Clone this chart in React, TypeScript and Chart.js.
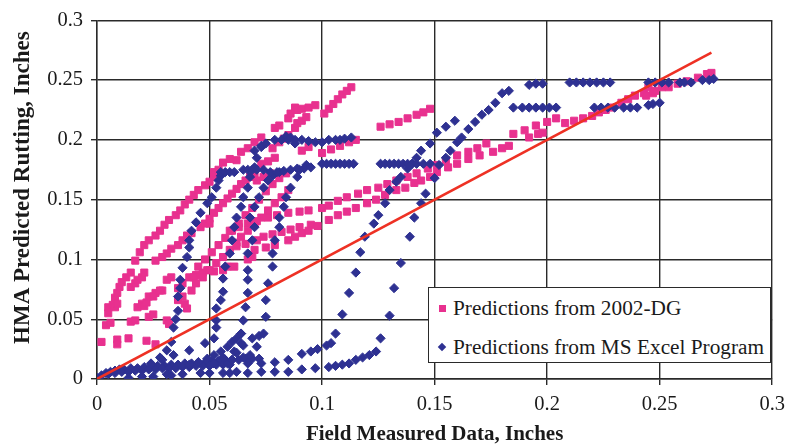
import { useEffect, useRef } from "react";
import { Chart, registerables } from "chart.js";

Chart.register(...registerables);

type Pt = [number, number];

// ---------- axis / text data ----------
const xTickValues = [0, 0.05, 0.1, 0.15, 0.2, 0.25, 0.3];
const yTickValues = [0, 0.05, 0.1, 0.15, 0.2, 0.25, 0.3];
const xTitle = "Field Measured Data, Inches";
const yTitle = "HMA Predicted Rutting, Inches";
const seriesNames = ["Predictions from 2002-DG", "Predictions from MS Excel Program"];

// line of equality
const equalityLine: Pt[] = [[0, 0], [0.273, 0.273]];

// ---------- 2002-DG predictions (pink squares) ----------
const dgScatterLow: Pt[] = [[0.002,0.031],[0.009,0.033],[0.009,0.029],[0.014,0.034],[0.022,0.032],[0.026,0.029],[0.004,0.045],[0.006,0.047],[0.015,0.048],[0.017,0.049],[0.023,0.052],[0.031,0.049],[0.032,0.046],[0.025,0.054]];
const dgArc1: Pt[] = [[0.005,0.055],[0.005,0.06],[0.007,0.062],[0.008,0.068],[0.009,0.072],[0.01,0.077],[0.011,0.081],[0.013,0.085],[0.015,0.089],[0.008,0.06],[0.009,0.063]];
const dgArc2: Pt[] = [[0.015,0.077],[0.017,0.08],[0.018,0.083],[0.02,0.085],[0.021,0.089],[0.018,0.06],[0.02,0.063],[0.021,0.061],[0.022,0.064],[0.023,0.069],[0.026,0.072],[0.029,0.074],[0.031,0.083],[0.033,0.085],[0.025,0.069],[0.028,0.074]];
const dgArcTop: Pt[] = [[0.017,0.099],[0.019,0.106],[0.021,0.112],[0.023,0.116],[0.026,0.12],[0.028,0.124],[0.03,0.129],[0.032,0.133],[0.035,0.137],[0.037,0.141],[0.039,0.146],[0.041,0.15],[0.043,0.154],[0.045,0.158],[0.048,0.162],[0.05,0.165],[0.052,0.169],[0.054,0.173]];
const dgArc3: Pt[] = [[0.026,0.099],[0.029,0.102],[0.031,0.105],[0.033,0.109],[0.036,0.112],[0.038,0.116],[0.04,0.12],[0.042,0.122],[0.046,0.127],[0.05,0.13]];
const dgBandF: Pt[] = [[0.048,0.13],[0.05,0.134],[0.052,0.139],[0.054,0.143],[0.056,0.147],[0.058,0.151],[0.06,0.155],[0.062,0.159],[0.064,0.163],[0.066,0.166],[0.068,0.169],[0.07,0.172]];
const dgBandG: Pt[] = [[0.036,0.066],[0.038,0.069],[0.039,0.063],[0.04,0.059],[0.036,0.076],[0.038,0.08],[0.041,0.085],[0.044,0.087],[0.047,0.089],[0.049,0.091],[0.043,0.085],[0.052,0.09],[0.056,0.091],[0.058,0.094],[0.061,0.094],[0.067,0.1],[0.069,0.102]];
const dgBandH1: Pt[] = [[0.042,0.074],[0.044,0.08],[0.047,0.085],[0.05,0.091],[0.053,0.097],[0.056,0.102],[0.059,0.108],[0.062,0.114],[0.064,0.119],[0.067,0.124],[0.07,0.13],[0.073,0.135],[0.076,0.141],[0.079,0.147],[0.082,0.152],[0.085,0.158]];
const dgBandH2: Pt[] = [[0.045,0.094],[0.048,0.1],[0.051,0.106],[0.054,0.112],[0.057,0.118],[0.06,0.124],[0.063,0.13],[0.066,0.137],[0.069,0.143],[0.072,0.15],[0.075,0.157],[0.078,0.163],[0.081,0.168],[0.084,0.172]];
const dgMid: Pt[] = [[0.062,0.111],[0.066,0.113],[0.071,0.116],[0.074,0.119],[0.078,0.121],[0.082,0.123],[0.086,0.125],[0.09,0.127],[0.095,0.129]];
const dgUpperBand: Pt[] = [[0.059,0.124],[0.063,0.127],[0.067,0.13],[0.071,0.132],[0.076,0.135],[0.08,0.137],[0.085,0.139],[0.09,0.14],[0.094,0.141],[0.1,0.143],[0.103,0.145],[0.107,0.149],[0.111,0.152],[0.116,0.155],[0.12,0.158],[0.125,0.16],[0.129,0.163],[0.133,0.166],[0.138,0.169],[0.142,0.172],[0.147,0.176],[0.151,0.179],[0.155,0.183],[0.16,0.187],[0.165,0.19],[0.169,0.193],[0.173,0.197]];
const dgLowerBand: Pt[] = [[0.07,0.108],[0.075,0.11],[0.079,0.112],[0.085,0.116],[0.088,0.119],[0.091,0.122],[0.094,0.124],[0.098,0.128],[0.103,0.133],[0.107,0.137],[0.111,0.14],[0.115,0.143],[0.12,0.147],[0.124,0.15],[0.128,0.154],[0.133,0.158],[0.137,0.16],[0.141,0.164],[0.144,0.166],[0.148,0.169],[0.151,0.173],[0.156,0.177],[0.16,0.18],[0.165,0.184],[0.17,0.187],[0.176,0.19],[0.18,0.193],[0.183,0.195]];
const dgUpperRight: Pt[] = [[0.185,0.205],[0.19,0.208],[0.195,0.212],[0.2,0.215],[0.204,0.218],[0.192,0.202],[0.196,0.205],[0.198,0.206]];
const dgTail: Pt[] = [[0.208,0.214],[0.212,0.216],[0.216,0.218],[0.22,0.22],[0.223,0.223],[0.226,0.225],[0.229,0.227],[0.233,0.231],[0.236,0.234],[0.239,0.237],[0.243,0.239],[0.244,0.237],[0.247,0.239],[0.245,0.244],[0.248,0.241],[0.251,0.244],[0.254,0.244],[0.258,0.247],[0.262,0.249],[0.267,0.252],[0.271,0.255],[0.273,0.256]];
const dgTopA: Pt[] = [[0.079,0.21],[0.081,0.212],[0.085,0.218],[0.086,0.222],[0.088,0.227],[0.089,0.225],[0.091,0.226],[0.094,0.227],[0.097,0.229],[0.088,0.21],[0.089,0.214],[0.091,0.216],[0.093,0.219]];
const dgTopB: Pt[] = [[0.101,0.222],[0.103,0.226],[0.105,0.23],[0.107,0.234],[0.109,0.238],[0.111,0.241],[0.113,0.244]];
const dgTopC: Pt[] = [[0.126,0.211],[0.13,0.213],[0.134,0.215],[0.138,0.218],[0.142,0.221],[0.145,0.223],[0.148,0.226]];
const dgMidTop: Pt[] = [[0.1,0.189],[0.104,0.192],[0.108,0.195],[0.112,0.198],[0.115,0.2]];
const dgMidLeft: Pt[] = [[0.052,0.173],[0.054,0.175],[0.056,0.181],[0.059,0.184],[0.062,0.183],[0.064,0.19],[0.067,0.193],[0.07,0.198],[0.073,0.202],[0.073,0.18],[0.076,0.182],[0.079,0.185],[0.078,0.193],[0.081,0.198],[0.083,0.201],[0.085,0.204],[0.091,0.191],[0.094,0.194],[0.071,0.166],[0.074,0.169],[0.077,0.172]];

// ---------- MS Excel program predictions (blue diamonds) ----------
const exBase1: Pt[] = [[0,0.001],[0.002,0.003],[0.004,0.005],[0.006,0.006],[0.008,0.007],[0.01,0.008],[0.012,0.008],[0.015,0.009],[0.018,0.009],[0.021,0.01],[0.024,0.01],[0.027,0.011],[0.03,0.011],[0.033,0.012],[0.036,0.012],[0.039,0.013],[0.042,0.013],[0.045,0.014],[0.048,0.014],[0.051,0.015],[0.054,0.015],[0.057,0.016],[0.06,0.016],[0.063,0.016],[0.066,0.017],[0.069,0.017],[0.072,0.017]];
const exBase2: Pt[] = [[0.005,0.004],[0.008,0.005],[0.011,0.006],[0.014,0.006],[0.017,0.007],[0.02,0.007],[0.023,0.008],[0.026,0.008],[0.029,0.009],[0.032,0.009],[0.035,0.009],[0.038,0.01],[0.041,0.01],[0.044,0.011],[0.047,0.011],[0.05,0.011],[0.053,0.012],[0.056,0.012],[0.059,0.012]];
const exBase3: Pt[] = [[0.014,0.001],[0.02,0.002],[0.025,0.002],[0.031,0.004],[0.033,0.003],[0.038,0.004],[0.046,0.005],[0.05,0.005],[0.056,0.005],[0.059,0.005],[0.062,0.006],[0.067,0.005],[0.073,0.006],[0.079,0.006],[0.085,0.006],[0.091,0.008],[0.097,0.009],[0.103,0.01],[0.106,0.011],[0.109,0.012],[0.112,0.013],[0.115,0.016],[0.118,0.018],[0.121,0.02],[0.124,0.023],[0.126,0.034],[0.13,0.053],[0.132,0.076],[0.135,0.097],[0.139,0.119],[0.141,0.135],[0.144,0.147],[0.146,0.155],[0.15,0.168],[0.152,0.179],[0.155,0.185],[0.157,0.191],[0.16,0.198],[0.162,0.202],[0.165,0.209],[0.168,0.215],[0.171,0.221],[0.174,0.225],[0.177,0.231],[0.18,0.239],[0.183,0.241]];
const exRise1: Pt[] = [[0.067,0.013],[0.073,0.013],[0.079,0.014],[0.085,0.016],[0.091,0.021],[0.095,0.023],[0.098,0.025],[0.102,0.028],[0.104,0.03],[0.106,0.038],[0.109,0.054],[0.112,0.072],[0.115,0.089],[0.117,0.106],[0.119,0.119],[0.123,0.13],[0.125,0.137],[0.128,0.147],[0.13,0.158],[0.133,0.165],[0.135,0.169],[0.138,0.176],[0.14,0.18],[0.142,0.185],[0.144,0.191],[0.148,0.197],[0.151,0.206],[0.155,0.211],[0.159,0.216]];
const exFanA: Pt[] = [[0.041,0.012],[0.045,0.014],[0.049,0.017],[0.052,0.02],[0.055,0.023],[0.058,0.027],[0.06,0.031],[0.062,0.034],[0.064,0.038]];
const exFanB: Pt[] = [[0.052,0.013],[0.056,0.018],[0.061,0.023],[0.065,0.028],[0.069,0.034],[0.072,0.036]];
const exSteep0: Pt[] = [[0.024,0.013],[0.028,0.018],[0.031,0.024],[0.033,0.031],[0.034,0.043],[0.035,0.05],[0.036,0.057],[0.036,0.069],[0.037,0.076],[0.037,0.083],[0.038,0.093],[0.04,0.102],[0.041,0.11],[0.041,0.116],[0.042,0.124],[0.044,0.131],[0.046,0.139],[0.049,0.147],[0.051,0.152],[0.053,0.16],[0.054,0.166],[0.055,0.17]];
const exSteep1: Pt[] = [[0.029,0.016],[0.034,0.02],[0.041,0.024],[0.048,0.03],[0.052,0.034],[0.053,0.043],[0.053,0.049],[0.053,0.059],[0.055,0.066],[0.056,0.073],[0.056,0.084],[0.057,0.094],[0.059,0.105],[0.06,0.116],[0.061,0.127],[0.062,0.135],[0.064,0.144],[0.065,0.152],[0.067,0.16],[0.068,0.169],[0.07,0.177],[0.071,0.185],[0.073,0.194]];
const exSteep2: Pt[] = [[0.058,0.013],[0.06,0.016],[0.062,0.022],[0.064,0.03],[0.064,0.038],[0.065,0.049],[0.066,0.06],[0.067,0.072],[0.067,0.083],[0.067,0.091],[0.067,0.105],[0.069,0.116],[0.07,0.127],[0.068,0.135],[0.07,0.144],[0.072,0.152],[0.074,0.16],[0.076,0.166],[0.078,0.17],[0.081,0.173]];
const exSteep3: Pt[] = [[0.065,0.018],[0.068,0.02],[0.071,0.027],[0.074,0.038],[0.075,0.052],[0.075,0.066],[0.076,0.08],[0.078,0.094],[0.078,0.105],[0.079,0.116],[0.081,0.127],[0.081,0.135],[0.083,0.144],[0.084,0.152],[0.086,0.16],[0.089,0.169],[0.09,0.175],[0.093,0.179]];
const exRow200: Pt[] = [[0.07,0.191],[0.073,0.195],[0.075,0.197],[0.079,0.2],[0.082,0.2],[0.084,0.203],[0.085,0.2],[0.086,0.202],[0.088,0.197],[0.088,0.2],[0.091,0.2],[0.094,0.199],[0.097,0.198],[0.1,0.198],[0.103,0.2],[0.106,0.2],[0.108,0.2],[0.11,0.201],[0.113,0.202]];
const exRow180: Pt[] = [[0.1,0.18],[0.102,0.18],[0.104,0.18],[0.106,0.18],[0.108,0.18],[0.11,0.18],[0.112,0.18],[0.114,0.18],[0.126,0.18],[0.128,0.18],[0.13,0.18],[0.132,0.18],[0.134,0.18],[0.136,0.18],[0.138,0.18],[0.14,0.18],[0.142,0.18],[0.145,0.18],[0.148,0.18]];
const exRow173: Pt[] = [[0.055,0.173],[0.057,0.173],[0.059,0.173],[0.061,0.173],[0.065,0.175],[0.067,0.175],[0.069,0.175],[0.071,0.175],[0.074,0.175],[0.077,0.173],[0.08,0.173],[0.083,0.174],[0.086,0.175],[0.089,0.176],[0.092,0.176],[0.095,0.177]];
const exRow227: Pt[] = [[0.185,0.227],[0.189,0.227],[0.192,0.227],[0.195,0.227],[0.198,0.227],[0.201,0.227],[0.204,0.227],[0.221,0.227],[0.224,0.227],[0.227,0.227],[0.23,0.227],[0.234,0.227],[0.237,0.227],[0.24,0.227],[0.245,0.229],[0.247,0.23],[0.25,0.231]];
const exRow248: Pt[] = [[0.192,0.246],[0.195,0.247],[0.198,0.247],[0.21,0.248],[0.213,0.248],[0.216,0.248],[0.219,0.248],[0.222,0.248],[0.225,0.248],[0.228,0.248],[0.245,0.248],[0.248,0.248],[0.251,0.248],[0.254,0.248],[0.259,0.248],[0.261,0.248],[0.264,0.248],[0.269,0.25],[0.272,0.25],[0.274,0.251]];

const dgTracks: Pt[][] = [dgScatterLow, dgArc1, dgArc2, dgArcTop, dgArc3, dgBandF, dgBandG, dgBandH1, dgBandH2, dgMid, dgUpperBand, dgLowerBand, dgUpperRight, dgTail, dgTopA, dgTopB, dgTopC, dgMidTop, dgMidLeft];
const exTracks: Pt[][] = [exBase1, exBase2, exBase3, exRise1, exFanA, exFanB, exSteep0, exSteep1, exSteep2, exSteep3, exRow200, exRow180, exRow173, exRow227, exRow248];

// ---------- styles ----------
const PINK = "#E8318F";
const BLUE = "#2E3192";
const RED = "#EE3124";
const GRID = "#2a2a2a";
const TEXT = "#1a1a1a";
const SERIF = '"Liberation Serif", "Times New Roman", serif';

const toXY = (tracks: Pt[][]) => tracks.flat().map(([x, y]) => ({ x, y }));
const fmt = (v: number) => String(Number(Number(v).toFixed(2)));

export default function App() {
  const ref = useRef<HTMLCanvasElement | null>(null);

  useEffect(() => {
    document.body.style.margin = "0";
    const canvas = ref.current;
    if (!canvas) return;

    const titles = {
      id: "axisTitles",
      afterDraw(chart: any) {
        const { ctx, chartArea } = chart;
        ctx.save();
        ctx.fillStyle = TEXT;
        ctx.textAlign = "center";
        ctx.textBaseline = "middle";
        ctx.font = `bold 21px ${SERIF}`;
        ctx.fillText(xTitle, (chartArea.left + chartArea.right) / 2, 435);
        ctx.font = `bold 23px ${SERIF}`;
        ctx.translate(23, (chartArea.top + chartArea.bottom) / 2 - 12);
        ctx.rotate(-Math.PI / 2);
        ctx.fillText(yTitle, 0, 0);
        ctx.restore();
      },
    };

    const chart = new Chart(canvas, {
      type: "scatter",
      data: {
        datasets: [
          {
            type: "line",
            label: "equality",
            data: equalityLine.map(([x, y]) => ({ x, y })),
            borderColor: RED,
            borderWidth: 2.6,
            pointRadius: 0,
            fill: false,
          } as any,
          {
            label: seriesNames[1],
            data: toXY(exTracks),
            pointStyle: "rectRot",
            pointRadius: 4.6,
            backgroundColor: BLUE,
            borderColor: BLUE,
            borderWidth: 1,
          },
          {
            label: seriesNames[0],
            data: toXY(dgTracks),
            pointStyle: "rect",
            pointRadius: 5,
            backgroundColor: PINK,
            borderColor: PINK,
            borderWidth: 1,
          },
        ],
      },
      options: {
        responsive: false,
        animation: false,
        devicePixelRatio: 1,
        layout: { padding: { top: 20, right: 14, left: 0, bottom: 0 } },
        plugins: { legend: { display: false }, tooltip: { enabled: false } },
        scales: {
          x: {
            type: "linear",
            min: 0,
            max: 0.3,
            afterBuildTicks: (s: any) => { s.ticks = xTickValues.map((v) => ({ value: v })); },
            afterFit: (s: any) => { s.height = 66; },
            ticks: { callback: (v: any) => fmt(v), color: TEXT, font: { family: SERIF, size: 20.5 }, padding: 7, maxRotation: 0 },
            grid: { color: GRID, lineWidth: 1.4, tickLength: 6, drawTicks: true },
            border: { color: GRID, width: 1.4 },
          },
          y: {
            type: "linear",
            min: 0,
            max: 0.3,
            afterBuildTicks: (s: any) => { s.ticks = yTickValues.map((v) => ({ value: v })); },
            afterFit: (s: any) => { s.width = 97; },
            ticks: { callback: (v: any) => fmt(v), color: TEXT, font: { family: SERIF, size: 20.5 }, padding: 8 },
            grid: { color: GRID, lineWidth: 1.4, tickLength: 6, drawTicks: true },
            border: { color: GRID, width: 1.4 },
          },
        },
      },
      plugins: [titles],
    });

    return () => chart.destroy();
  }, []);

  return (
    <div style={{ position: "fixed", left: 0, top: 0, width: 792, height: 445, background: "#fff" }}>
      <canvas ref={ref} width={792} height={445} style={{ display: "block", width: 792, height: 445 }} />
      <div
        style={{
          position: "absolute",
          left: 428,
          top: 287,
          width: 343,
          height: 76,
          boxSizing: "border-box",
          border: `1.5px solid ${GRID}`,
          background: "#fff",
          fontFamily: SERIF,
          fontSize: 21.3,
          color: TEXT,
        }}
      >
        <div style={{ position: "absolute", left: 10, top: 17, width: 7, height: 7, background: PINK }} />
        <div style={{ position: "absolute", left: 24, top: 8, lineHeight: "24px", whiteSpace: "nowrap" }}>{seriesNames[0]}</div>
        <div style={{ position: "absolute", left: 10, top: 56, width: 6, height: 6, background: BLUE, transform: "rotate(45deg)" }} />
        <div style={{ position: "absolute", left: 24, top: 47, lineHeight: "24px", whiteSpace: "nowrap" }}>{seriesNames[1]}</div>
      </div>
    </div>
  );
}
